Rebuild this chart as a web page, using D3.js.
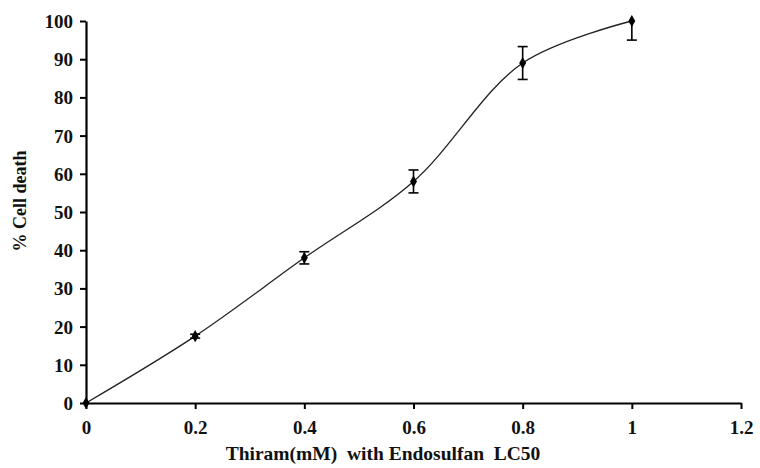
<!DOCTYPE html>
<meta charset="utf-8">
<style>
body { margin: 0; background: #fff; }
</style>
<body>
<script src="https://cdn.jsdelivr.net/npm/d3@7"></script>
<script>
'use strict';

// values
const doses = [0, 0.2, 0.4, 0.6, 0.8, 1.0];
const cellDeath = [0, 17.5, 38, 58, 89, 100];
const errors = [0, 0.5, 1.6, 3, 4.3, 5];
const xTicks = [0, 0.2, 0.4, 0.6, 0.8, 1, 1.2];
const yTicks = [0, 10, 20, 30, 40, 50, 60, 70, 80, 90, 100];

const width = 760, height = 468;
const margin = {top: 21, right: 19, bottom: 65, left: 86};
const serif = "'Liberation Serif', 'Times New Roman', serif";

const svg = d3.select("body").append("svg")
    .attr("width", width)
    .attr("height", height);

const x = d3.scaleLinear().domain([0, 1.2]).range([margin.left, width - margin.right]);
const y = d3.scaleLinear().domain([0, 100]).range([height - margin.bottom, margin.top]);

// axes
const xAxis = svg.append("g")
    .attr("transform", `translate(0,${y(0)})`)
    .call(d3.axisBottom(x).tickValues(xTicks).tickFormat(d => d).tickSize(6).tickSizeOuter(0));
const yAxis = svg.append("g")
    .attr("transform", `translate(${x(0)},0)`)
    .call(d3.axisLeft(y).tickValues(yTicks).tickSize(6).tickSizeOuter(0));

[xAxis, yAxis].forEach(a => {
  a.attr("font-family", null).attr("font-size", null);
  a.select(".domain").attr("stroke", "#000").attr("stroke-width", 2.2);
  a.selectAll(".tick line").attr("stroke", "#000").attr("stroke-width", 2);
  a.selectAll(".tick text")
    .style("font-family", serif)
    .style("font-weight", "bold")
    .style("font-size", "19px")
    .attr("fill", "#111");
});
xAxis.selectAll(".tick text").attr("y", 31).attr("dy", 0);
yAxis.selectAll(".tick text").attr("x", -13).attr("dy", "0.34em");

// smoothed curve
const pts = doses.map((d, i) => [d, cellDeath[i]]);
const line = d3.line()
    .x(d => x(d[0]))
    .y(d => y(d[1]))
    .curve(d3.curveCatmullRom.alpha(0.5));

svg.append("path")
    .datum(pts)
    .attr("fill", "none")
    .attr("stroke", "#222")
    .attr("stroke-width", 1.3)
    .attr("d", line);

// error bars (clipped at the axis maximum)
const eb = svg.append("g").attr("stroke", "#000").attr("stroke-width", 1.6);
doses.forEach((d, i) => {
  if (errors[i] <= 0) return;
  const top = Math.min(100, cellDeath[i] + errors[i]);
  const bot = cellDeath[i] - errors[i];
  eb.append("line").attr("x1", x(d)).attr("x2", x(d)).attr("y1", y(top)).attr("y2", y(bot));
  if (top < 100) eb.append("line").attr("x1", x(d) - 5).attr("x2", x(d) + 5).attr("y1", y(top)).attr("y2", y(top));
  eb.append("line").attr("x1", x(d) - 5).attr("x2", x(d) + 5).attr("y1", y(bot)).attr("y2", y(bot));
});

// diamond markers
svg.append("g").selectAll("path")
    .data(pts)
  .join("path")
    .attr("transform", d => `translate(${x(d[0])},${y(d[1])})`)
    .attr("d", d3.symbol().type(d3.symbolDiamond).size(42))
    .attr("fill", "#000");

// axis titles
svg.append("text")
    .attr("x", 383)
    .attr("y", 460)
    .attr("text-anchor", "middle")
    .style("font-family", serif)
    .style("font-weight", "bold")
    .style("font-size", "19.5px")
    .attr("fill", "#111")
    .attr("xml:space", "preserve")
    .text("Thiram(mM)  with Endosulfan  LC50");

svg.append("text")
    .attr("transform", "translate(26,201) rotate(-90)")
    .attr("text-anchor", "middle")
    .style("font-family", serif)
    .style("font-weight", "bold")
    .style("font-size", "18px")
    .attr("fill", "#111")
    .text("% Cell death");
</script>
</body>
